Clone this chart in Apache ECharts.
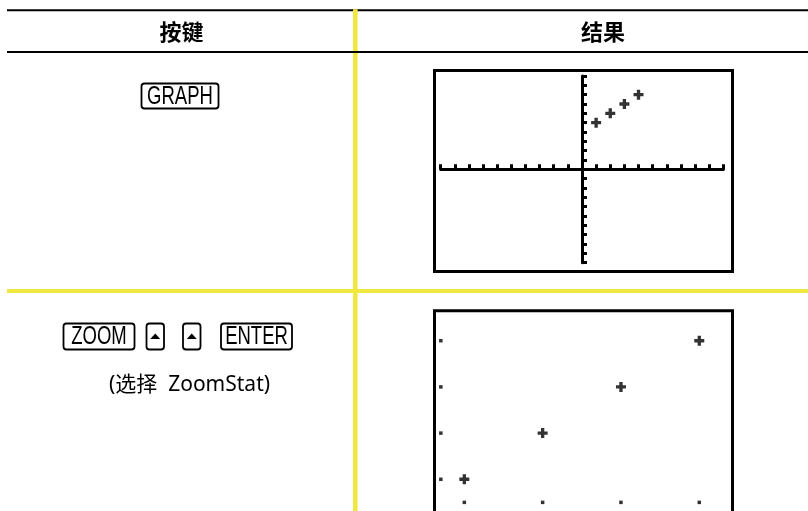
<!DOCTYPE html>
<html>
<head>
<meta charset="utf-8">
<script src="https://cdn.jsdelivr.net/npm/echarts@6/dist/echarts.min.js"></script>
<style>
  html, body { margin: 0; padding: 0; background: #fff; }
  #chart { width: 808px; height: 511px; }
</style>
</head>
<body>
<div id="chart"></div>
<script>
// datos de la lista estadística (L1, L2)
const listaX = [1, 2, 3, 4];
const listaY = [5, 6, 7, 8];

// ventanas de la calculadora: [Xmin, Xmax, Ymin, Ymax]
const ventanaStd = [-10, 10, -10, 10];
const ventanaStat = [0.6, 4.4, 4.4, 8.6];

// puntos de referencia que se ven en ZoomStat
const marcaColX = 0.7;
const marcaFilaY = 4.5;

// textos de la tabla
const encabezados = ['按键', '结果'];
const teclasFila1 = ['GRAPH'];
const teclasFila2 = ['ZOOM', '▲', '▲', 'ENTER'];
const notaFila2 = '(选择  ZoomStat)';

const AMARILLO = '#f0e83e';
const fuenteTecla = '25px "Liberation Sans", sans-serif';

const myChart = echarts.init(document.getElementById('chart'), null, { renderer: 'canvas' });

// dibuja una tecla con marco redondeado
function tecla(x, y, w, h, label) {
  const children = [{
    type: 'rect',
    shape: { x: x, y: y, width: w, height: h, r: 3 },
    style: { fill: '#fff', stroke: '#000', lineWidth: 1.8 }
  }];
  if (label === '▲') {
    const cx = x + w / 2, cy = y + h / 2;
    children.push({
      type: 'polygon',
      shape: { points: [[cx - 5, cy + 2.5], [cx + 5, cy + 2.5], [cx, cy - 3]] },
      style: { fill: '#000' }
    });
  } else {
    // letra estrecha: se comprime en horizontal
    children.push({
      type: 'text',
      x: x + w / 2, y: y + h / 2 + 1,
      scaleX: 0.74,
      style: {
        text: label, x: 0, y: 0,
        font: fuenteTecla, fill: '#000',
        textAlign: 'center', textVerticalAlign: 'middle'
      }
    });
  }
  return { type: 'group', children: children };
}

const ejeComun = {
  type: 'value',
  interval: 1,
  axisLabel: { show: false },
  splitLine: { show: false },
  axisLine: { onZero: true, lineStyle: { color: '#000', width: 3 } },
  axisTick: { show: true, inside: true, length: 5, lineStyle: { color: '#000', width: 3 } }
};

const simboloCruz = 'path://M3,0h3v3h3v3h-3v3h-3v-3h-3v-3h3z';

myChart.setOption({
  animation: false,
  grid: [
    { left: 440.7, top: 76, width: 282.6, height: 186.7 },
    { left: 433, top: 313, width: 297.6, height: 194 }
  ],
  xAxis: [
    Object.assign({}, ejeComun, { gridIndex: 0, min: ventanaStd[0], max: ventanaStd[1] }),
    { type: 'value', gridIndex: 1, min: ventanaStat[0], max: ventanaStat[1], show: false }
  ],
  yAxis: [
    Object.assign({}, ejeComun, { gridIndex: 0, min: ventanaStd[2], max: ventanaStd[3] }),
    { type: 'value', gridIndex: 1, min: ventanaStat[2], max: ventanaStat[3], show: false }
  ],
  series: [
    {
      type: 'scatter', xAxisIndex: 0, yAxisIndex: 0,
      symbol: simboloCruz, symbolSize: 10,
      itemStyle: { color: '#000' },
      data: listaX.map((x, i) => [x, listaY[i]])
    },
    {
      type: 'scatter', xAxisIndex: 1, yAxisIndex: 1,
      symbol: simboloCruz, symbolSize: 10,
      itemStyle: { color: '#000' },
      data: listaX.map((x, i) => [x, listaY[i]])
    },
    {
      type: 'scatter', xAxisIndex: 1, yAxisIndex: 1,
      symbol: 'rect', symbolSize: 3.5,
      itemStyle: { color: '#000' },
      data: listaY.map(y => [marcaColX, y]).concat(listaX.map(x => [x, marcaFilaY]))
    }
  ],
  graphic: [
    // líneas de la tabla
    { type: 'rect', shape: { x: 7, y: 9.3, width: 801, height: 2 }, style: { fill: '#000' } },
    { type: 'rect', shape: { x: 353, y: 9.3, width: 4.6, height: 502 }, style: { fill: AMARILLO } },
    { type: 'rect', shape: { x: 7, y: 51, width: 801, height: 2 }, style: { fill: '#000' } },
    { type: 'rect', shape: { x: 7, y: 289, width: 801, height: 4 }, style: { fill: AMARILLO } },
    // encabezados
    {
      type: 'text',
      style: { text: encabezados[0], x: 181.5, y: 31.5, font: 'bold 22px "Noto Sans CJK SC"', fill: '#000', textAlign: 'center', textVerticalAlign: 'middle' }
    },
    {
      type: 'text',
      style: { text: encabezados[1], x: 603, y: 31.5, font: 'bold 22px "Noto Sans CJK SC"', fill: '#000', textAlign: 'center', textVerticalAlign: 'middle' }
    },
    // teclas
    tecla(141.5, 83.5, 77, 25, teclasFila1[0]),
    tecla(63.5, 323.5, 71, 26, teclasFila2[0]),
    tecla(146.5, 323.5, 17.5, 26, teclasFila2[1]),
    tecla(183, 323.5, 17.5, 26, teclasFila2[2]),
    tecla(221, 323.5, 71, 26, teclasFila2[3]),
    {
      type: 'text',
      style: { text: notaFila2, x: 189.5, y: 385, font: '21px "Noto Sans", "Noto Sans CJK SC"', fill: '#000', textAlign: 'center', textVerticalAlign: 'middle' }
    },
    // marcos de las pantallas
    { type: 'rect', shape: { x: 434.5, y: 70.5, width: 298, height: 201 }, style: { fill: 'none', stroke: '#000', lineWidth: 3 } },
    { type: 'rect', shape: { x: 434.5, y: 310.8, width: 298, height: 260 }, style: { fill: 'none', stroke: '#000', lineWidth: 3 } }
  ]
});

window.addEventListener('resize', () => myChart.resize());
</script>
</body>
</html>
